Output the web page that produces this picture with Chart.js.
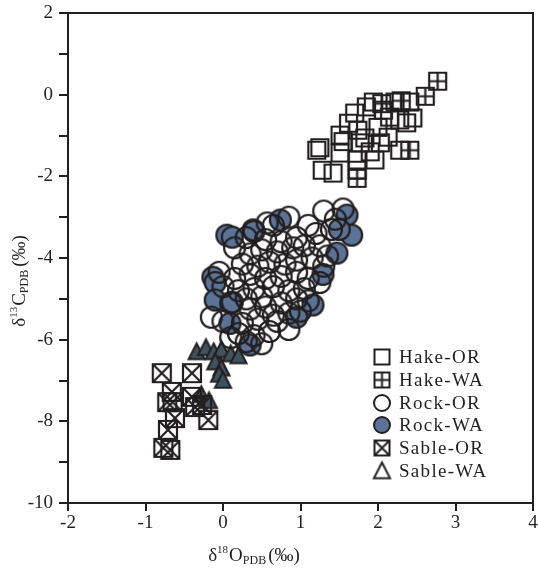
<!DOCTYPE html>
<html><head><meta charset="utf-8">
<script src="https://cdn.jsdelivr.net/npm/chart.js@4.4.0/dist/chart.umd.min.js"></script>
<style>html,body{margin:0;padding:0;background:#fff;}#wrap{width:538px;height:573px;}</style>
</head><body><div id="wrap"><canvas id="c" width="538" height="573"></canvas></div>
<script>
// ---------- data ----------
const seriesNames = ['Hake-OR','Hake-WA','Rock-OR','Rock-WA','Sable-OR','Sable-WA'];
const xTicks = [-2,-1,0,1,2,3,4];
const yTicks = [-10,-8,-6,-4,-2,0,2];

const hakeOR = [[1.21,-1.36],[1.25,-1.30],[1.28,-1.85],[1.42,-1.92],[1.51,-0.99],[1.51,-1.43],[1.55,-1.15],
  [1.70,-0.45],[1.74,-0.87],[1.77,-1.18],[1.73,-1.60],[1.73,-1.85],[2.00,-0.80],[2.03,-1.18],[1.96,-1.60],
  [2.07,-0.38],[2.28,-0.62],[2.37,-0.69],[2.28,-1.36],[1.94,-0.18],[2.22,-0.18],[2.41,-0.18],[2.45,-0.57],
  [1.83,-1.06],[2.13,-1.04],[1.85,-0.30],[2.15,-0.55],[1.62,-0.70],[1.90,-1.40]];
const hakeWA = [[2.77,0.33],[2.61,-0.04],[2.41,-1.36],[1.73,-2.05],[2.05,-0.22],[2.30,-0.15]];
const rockOR = [[1.30,-2.85],[1.55,-2.80],[1.45,-3.05],[1.10,-3.20],[0.85,-3.00],[0.65,-3.20],[0.40,-3.35],
  [0.30,-3.50],[0.55,-3.55],[0.95,-3.50],[1.20,-3.40],[1.40,-3.30],[0.75,-3.60],[0.57,-3.14],
  [0.15,-3.75],[0.35,-3.90],[0.50,-3.80],[0.70,-3.85],[0.90,-3.75],[1.05,-3.70],[1.25,-3.70],[1.35,-3.95],
  [1.15,-4.00],[0.95,-4.05],[0.60,-4.10],[0.25,-4.15],[0.45,-4.20],[0.80,-4.15],[1.30,-4.20],
  [-0.05,-4.35],[0.15,-4.50],[0.35,-4.40],[0.55,-4.50],[0.75,-4.45],[0.95,-4.35],[1.10,-4.50],[1.25,-4.60],
  [0.65,-4.70],[0.40,-4.75],[0.20,-4.80],[0.85,-4.80],[1.05,-4.75],[0.50,-4.95],[0.30,-5.00],[0.00,-4.70],
  [0.10,-5.10],[0.35,-5.25],[0.55,-5.20],[0.75,-5.10],[0.95,-5.00],[1.10,-5.05],[0.65,-5.40],[0.85,-5.35],
  [0.45,-5.50],[0.25,-5.60],[-0.15,-5.45],[0.00,-5.55],[0.70,-5.55],[1.00,-5.30],
  [0.20,-5.85],[0.40,-5.90],[0.60,-5.80],[0.85,-5.75],[0.30,-6.05],[0.50,-6.10],[0.10,-5.95]];
const rockWA = [[0.05,-3.44],[0.12,-3.49],[0.39,-3.31],[0.74,-3.07],[1.60,-2.95],[1.66,-3.44],[1.50,-3.30],
  [-0.13,-4.47],[-0.10,-4.60],[-0.10,-5.03],[0.12,-5.08],[0.09,-5.60],[0.35,-6.13],[1.47,-3.88],
  [1.16,-5.15],[0.95,-5.45],[1.29,-4.40]];
const sableOR = [[-0.79,-6.82],[-0.40,-6.82],[-0.66,-7.28],[-0.65,-7.53],[-0.40,-7.40],[-0.36,-7.65],
  [-0.27,-7.60],[-0.19,-7.97],[-0.62,-7.92],[-0.71,-8.21],[-0.77,-8.65],[-0.68,-8.70],[-0.72,-7.53]];
const sableWA = [[-0.34,-6.30],[-0.22,-6.20],[-0.12,-6.30],[-0.02,-6.25],[0.10,-6.35],[0.20,-6.40],
  [-0.10,-6.55],[-0.02,-6.70],[-0.05,-6.85],[0.00,-7.00],[-0.28,-7.35],[-0.18,-7.50]];

// ---------- styles ----------
const INK = '#231f20';
const BLUE = '#5b7397';
const SLATE = '#3f535c';
const FONT = '"Liberation Serif", "Times New Roman", serif';

function marker(kind, s, lw) {
  const pad = 3, n = Math.ceil(s + 2*pad);
  const c = document.createElement('canvas'); c.width = n; c.height = n;
  const g = c.getContext('2d'); g.strokeStyle = INK; g.lineWidth = lw; g.lineJoin = 'miter';
  const m = n/2, h = s/2;
  if (kind === 'sq' || kind === 'sqplus' || kind === 'sqx') {
    g.beginPath(); g.rect(m-h, m-h, s, s); g.stroke();
    if (kind === 'sqplus') { g.beginPath(); g.moveTo(m, m-h); g.lineTo(m, m+h); g.moveTo(m-h, m); g.lineTo(m+h, m); g.stroke(); }
    if (kind === 'sqx') { g.beginPath(); g.moveTo(m-h, m-h); g.lineTo(m+h, m+h); g.moveTo(m+h, m-h); g.lineTo(m-h, m+h); g.stroke(); }
  } else if (kind === 'circ' || kind === 'circf') {
    g.beginPath(); g.arc(m, m, h, 0, Math.PI*2);
    if (kind === 'circf') { g.fillStyle = BLUE; g.fill(); }
    g.stroke();
  } else if (kind === 'tri' || kind === 'trio') {
    g.beginPath(); g.moveTo(m, m-h); g.lineTo(m+h*0.95, m+h*0.85); g.lineTo(m-h*0.95, m+h*0.85); g.closePath();
    if (kind === 'tri') { g.fillStyle = SLATE; g.fill(); }
    g.stroke();
  }
  return c;
}
const mk = {
  'Hake-OR': marker('sq', 17, 2.2), 'Hake-WA': marker('sqplus', 17, 2.2),
  'Rock-OR': marker('circ', 21, 2.2), 'Rock-WA': marker('circf', 21, 2.2),
  'Sable-OR': marker('sqx', 18, 2.2), 'Sable-WA': marker('tri', 17, 2)
};
const lg = {
  'Hake-OR': marker('sq', 15, 2), 'Hake-WA': marker('sqplus', 15, 2),
  'Rock-OR': marker('circ', 16, 2), 'Rock-WA': marker('circf', 16, 2),
  'Sable-OR': marker('sqx', 15, 2), 'Sable-WA': marker('trio', 17, 2)
};
const toPts = a => a.map(p => ({x: p[0], y: p[1]}));
function ds(name, arr) { return { label: name, data: toPts(arr), pointStyle: mk[name], pointRadius: 10, showLine: false }; }

// drawn: last dataset at bottom
const datasets = [ds('Rock-OR', rockOR), ds('Rock-WA', rockWA), ds('Sable-OR', sableOR), ds('Sable-WA', sableWA),
  ds('Hake-OR', hakeOR), ds('Hake-WA', hakeWA)];

function drawRich(ctx, parts, x, y, align) {
  let w = 0;
  parts.forEach(p => { ctx.font = p[1] + 'px ' + FONT; w += ctx.measureText(p[0]).width + (p[3] || 0); });
  let cx = align === 'center' ? x - w/2 : x;
  parts.forEach(p => { ctx.font = p[1] + 'px ' + FONT; ctx.fillText(p[0], cx, y + p[2]); cx += ctx.measureText(p[0]).width + (p[3] || 0); });
}

const decor = {
  id: 'decor',
  afterDraw(chart) {
    const ctx = chart.ctx, a = chart.chartArea;
    ctx.save();
    ctx.strokeStyle = INK; ctx.lineWidth = 2;
    ctx.beginPath(); ctx.moveTo(a.left, a.top); ctx.lineTo(a.right, a.top); ctx.lineTo(a.right, a.bottom); ctx.stroke();
    ctx.fillStyle = INK; ctx.textBaseline = 'middle'; ctx.textAlign = 'left';
    ctx.font = '19px ' + FONT;
    try { ctx.letterSpacing = '1.3px'; } catch (e) {}
    const rows = [357, 380, 403, 425, 448, 471];
    seriesNames.forEach((n, i) => {
      const im = lg[n];
      ctx.drawImage(im, 382 - im.width/2, rows[i] - im.height/2);
      ctx.fillText(n, 399, rows[i] + 1);
    });
    try { ctx.letterSpacing = '0px'; } catch (e) {}
    ctx.textBaseline = 'alphabetic';
    drawRich(ctx, [['δ', 19, 0], ['18', 11, -8, 1], ['O', 19, 0], ['PDB', 12, 3, 2], ['(‰)', 19, 0]], 254, 561, 'center');
    ctx.save(); ctx.translate(25, 281); ctx.rotate(-Math.PI/2);
    drawRich(ctx, [['δ', 19, 0], ['13', 11, -8, 1], ['C', 19, 0], ['PDB', 12, 3, 3], ['(‰)', 19, 0]], 0, 0, 'center');
    ctx.restore();
    ctx.restore();
  }
};

const tickFont = { family: FONT, size: 19 };
new Chart(document.getElementById('c'), {
  type: 'scatter',
  data: { datasets },
  options: {
    responsive: false, animation: false, devicePixelRatio: 1,
    layout: { autoPadding: false, padding: { top: 13, right: 5, left: 0, bottom: 0 } },
    plugins: { legend: { display: false }, tooltip: { enabled: false } },
    scales: {
      x: {
        type: 'linear', min: xTicks[0], max: xTicks[xTicks.length-1],
        afterBuildTicks: s => { s.ticks = xTicks.map(v => ({ value: v })); },
        afterFit: s => { s.height = 70; s.paddingLeft = 0; s.paddingRight = 0; },
        ticks: { font: tickFont, color: INK, padding: 1, callback: v => String(v), maxRotation: 0 },
        grid: { display: true, drawOnChartArea: false, drawTicks: true, tickLength: 8, color: INK, lineWidth: 2 },
        border: { display: true, color: INK, width: 2 }
      },
      y: {
        type: 'linear', min: yTicks[0], max: yTicks[yTicks.length-1],
        afterBuildTicks: s => { const t = []; for (let v = yTicks[0]; v <= yTicks[yTicks.length-1]; v++) t.push({ value: v }); s.ticks = t; },
        afterFit: s => { s.width = 68; s.paddingTop = 0; s.paddingBottom = 0; },
        ticks: { font: tickFont, color: INK, padding: 6, callback: v => (yTicks.includes(v) ? String(v) : '') },
        grid: { display: true, drawOnChartArea: false, drawTicks: true, tickLength: 9, color: INK, lineWidth: 2 },
        border: { display: true, color: INK, width: 2 }
      }
    }
  },
  plugins: [decor]
});
</script></body></html>
